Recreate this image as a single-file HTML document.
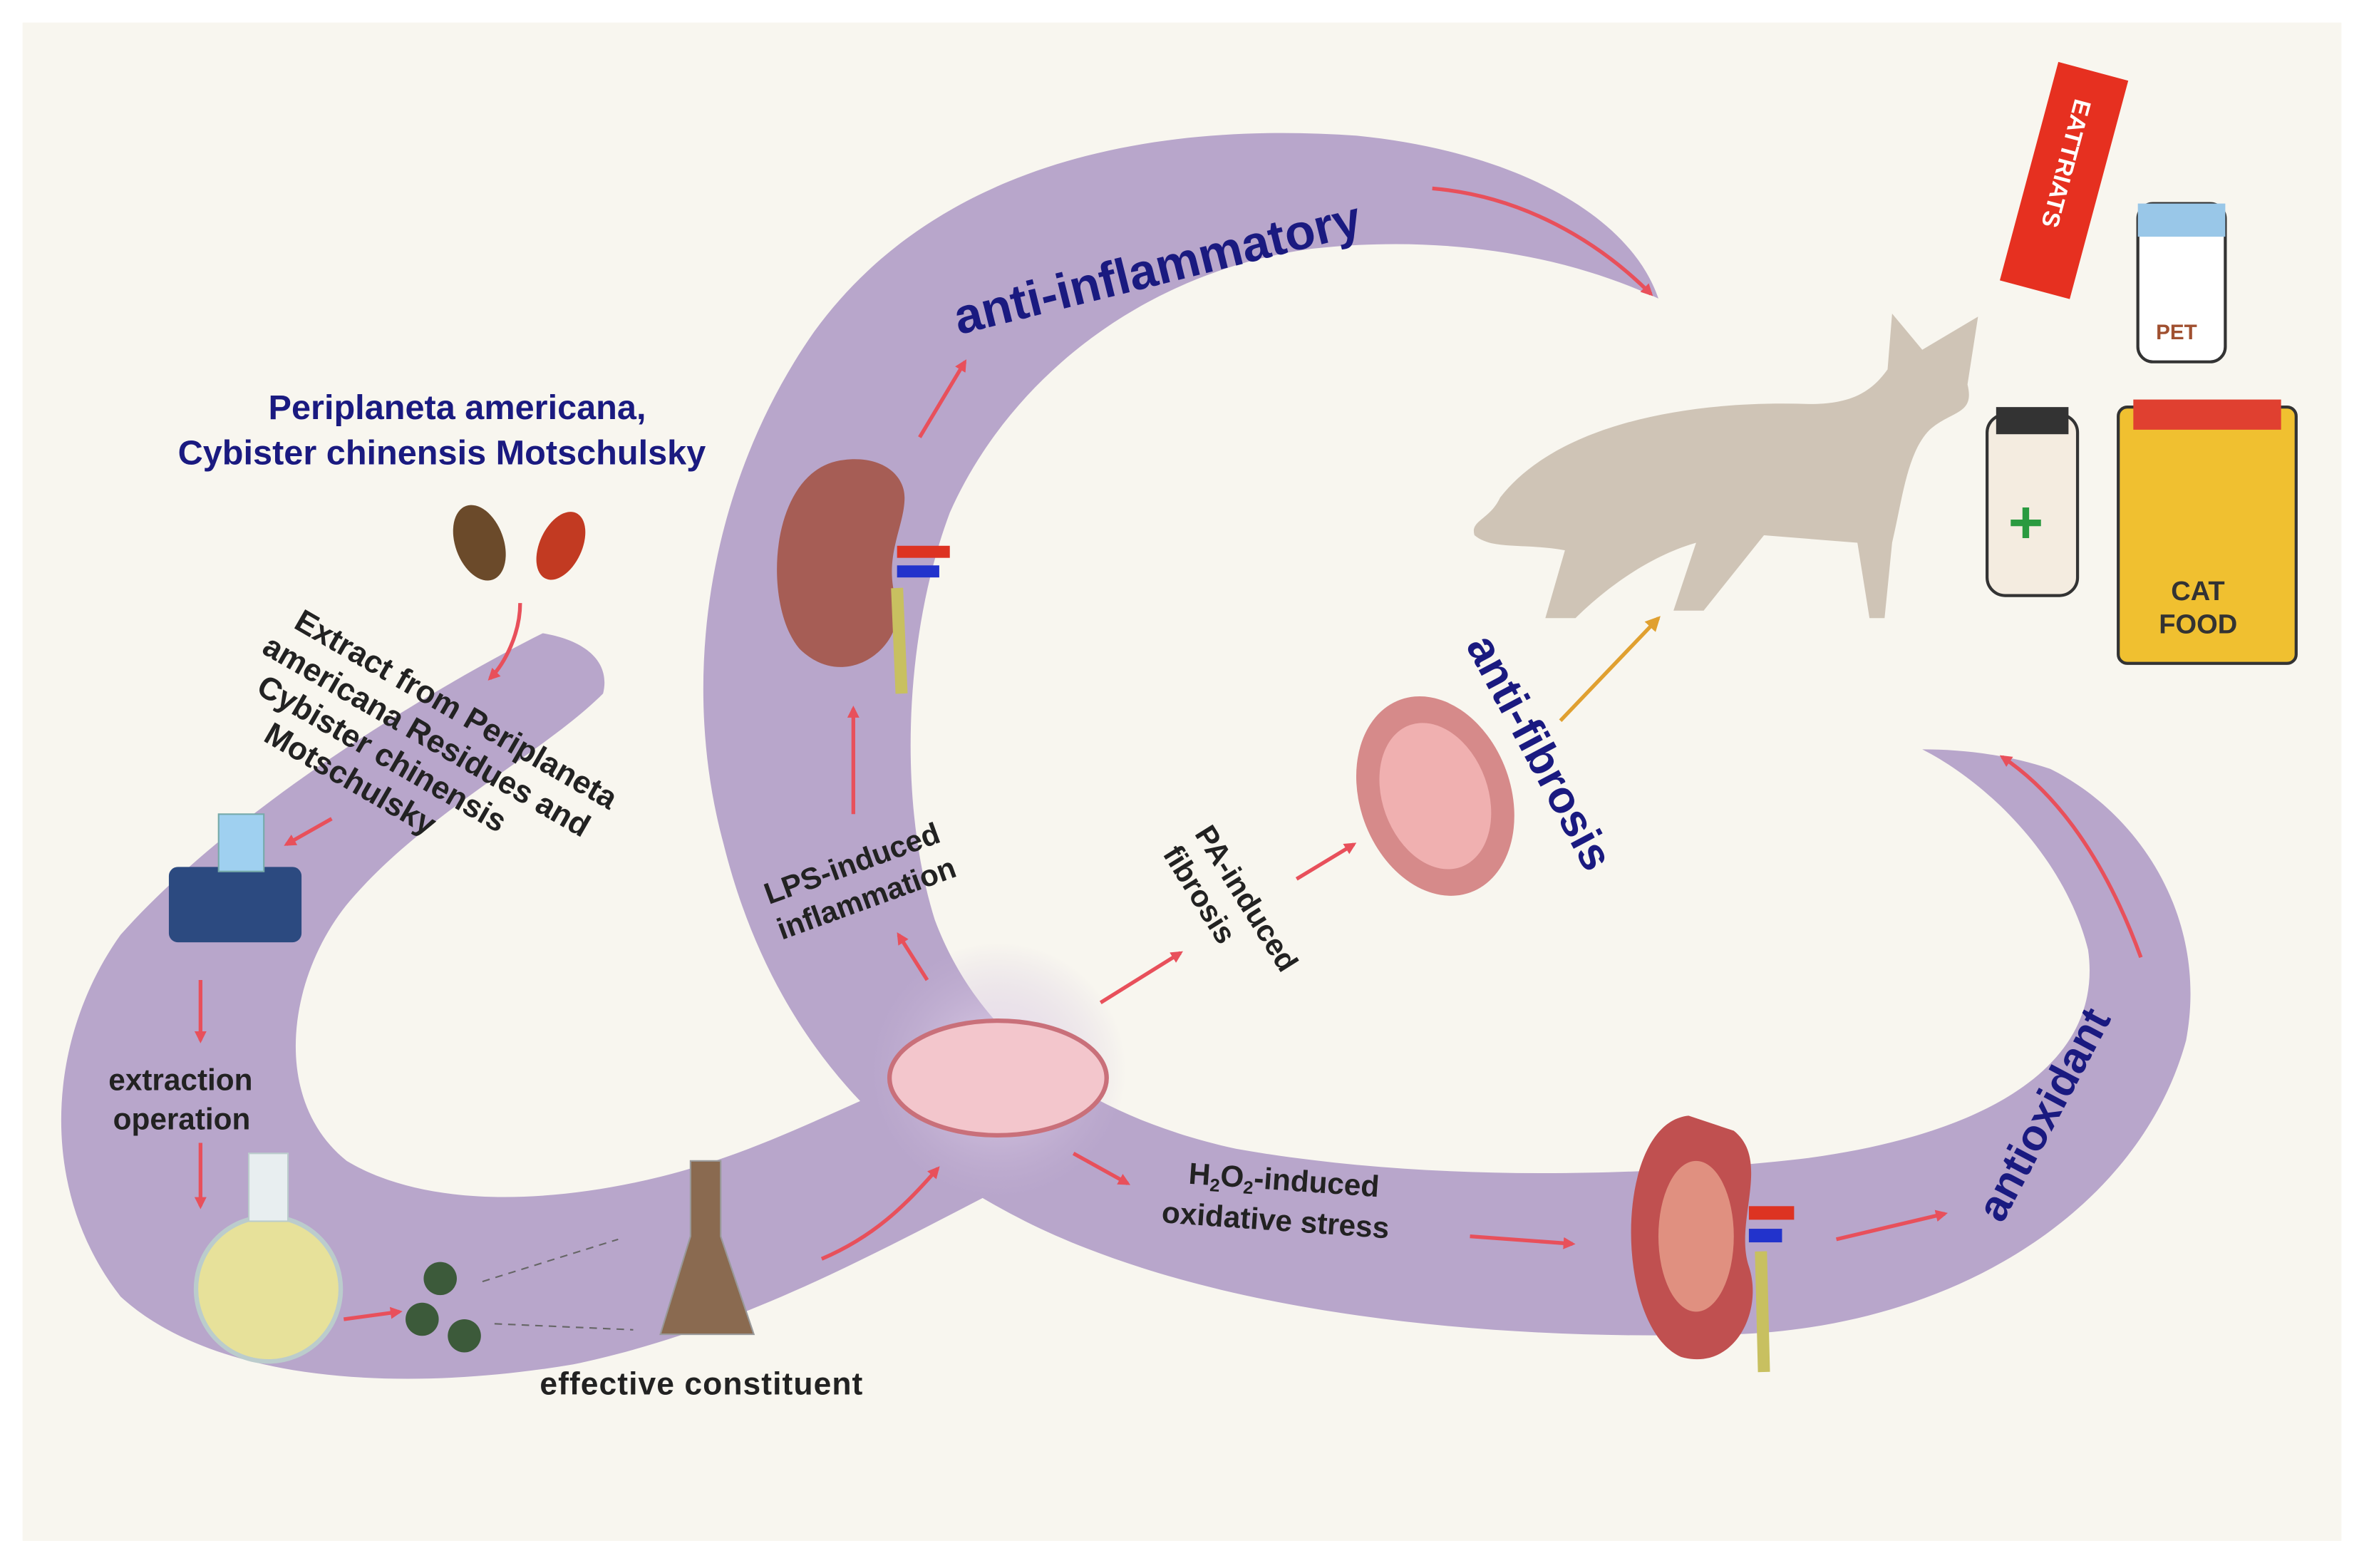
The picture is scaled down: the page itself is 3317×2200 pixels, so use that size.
<!DOCTYPE html>
<html><head><meta charset="utf-8"><style>
html,body{margin:0;padding:0;background:#fff}
svg{display:block}
text{font-family:"Liberation Sans",sans-serif;font-weight:bold}
</style></head><body>
<svg width="3317" height="2200" viewBox="0 0 1568 1040" preserveAspectRatio="none" xmlns="http://www.w3.org/2000/svg">
<defs>
<marker id="ar" markerWidth="8" markerHeight="8" refX="6" refY="4" orient="auto" markerUnits="userSpaceOnUse"><path d="M0,0 L8,4 L0,8 z" fill="#e8505b"/></marker>
<marker id="ao" markerWidth="10" markerHeight="10" refX="8" refY="5" orient="auto" markerUnits="userSpaceOnUse"><path d="M0,0 L10,5 L0,10 z" fill="#e0a030"/></marker>
<radialGradient id="glow"><stop offset="0" stop-color="#e9dcf0" stop-opacity="0.9"/><stop offset="1" stop-color="#c9b6d8" stop-opacity="0"/></radialGradient>
</defs>
<rect width="1568" height="1040" fill="#fff"/>
<rect x="15" y="15" width="1538" height="1007" fill="#f8f6ef"/>
<!-- ribbons -->
<g fill="#b8a6cb">
<path d="M1100,198 C1080,140 1000,100 900,90 C760,80 620,110 540,220 C470,320 450,450 480,560 C510,680 580,760 680,810 C800,870 980,890 1150,885 C1300,880 1420,800 1450,690 C1465,610 1420,540 1360,510 C1330,500 1300,497 1275,497 C1320,520 1370,570 1385,630 C1395,700 1330,750 1200,768 C1100,780 950,785 820,762 C720,740 650,690 620,610 C595,530 600,420 630,340 C670,250 760,180 870,165 C960,155 1040,170 1100,198 z"/>
<path d="M360,420 C300,450 160,530 80,620 C30,690 25,790 80,860 C140,915 260,925 380,905 C500,880 600,820 690,775 L650,700 C580,720 520,760 440,780 C360,800 280,800 230,770 C180,730 190,650 230,600 C280,540 360,500 400,460 C405,440 390,425 360,420 z"/>
</g>
<circle cx="662" cy="710" r="85" fill="url(#glow)"/>
<!-- labels -->
<text x="178" y="278" font-size="23" fill="#1a1a80">Periplaneta americana,</text>
<text x="118" y="308" font-size="23" fill="#1a1a80">Cybister chinensis Motschulsky</text>
<text transform="translate(636,222) rotate(-14)" font-size="33" fill="#1a1a80">anti-inflammatory</text>
<text transform="translate(972,428) rotate(62)" font-size="30" fill="#1a1a80">anti-fibrosis</text>
<text transform="translate(1328,812) rotate(-62)" font-size="29" fill="#1a1a80">antioxidant</text>
<g transform="translate(194,416) rotate(30)" font-size="21" fill="#222">
<text x="0" y="0">Extract from Periplaneta</text>
<text x="-10" y="25">americana Residues and</text>
<text x="0" y="50">Cybister chinensis</text>
<text x="20" y="75">Motschulsky</text>
</g>
<text x="72" y="723" font-size="20" fill="#222">extraction</text>
<text x="75" y="749" font-size="20" fill="#222">operation</text>
<text x="358" y="925" font-size="21" fill="#222" letter-spacing="0.5">effective constituent</text>
<g transform="translate(510,600) rotate(-20)" font-size="20" fill="#222"><text x="0" y="0">LPS-induced</text><text x="0" y="25">inflammation</text></g>
<g transform="translate(792,553) rotate(58)" font-size="20" fill="#222"><text x="0" y="0">PA-induced</text><text x="0" y="25">fibrosis</text></g>
<g transform="translate(788,785) rotate(4)" font-size="20" fill="#222"><text x="0" y="0">H<tspan font-size="12" dy="4">2</tspan><tspan dy="-4">O</tspan><tspan font-size="12" dy="4">2</tspan><tspan dy="-4">-induced</tspan></text><text x="-16" y="27">oxidative stress</text></g>
<!-- arrows -->
<g stroke="#e8505b" stroke-width="2.5" fill="none" marker-end="url(#ar)">
<path d="M345,400 C345,420 335,440 325,450"/>
<path d="M220,543 L190,560"/>
<path d="M133,650 L133,690"/>
<path d="M133,758 L133,800"/>
<path d="M228,875 L265,870"/>
<path d="M545,835 C580,820 600,800 622,775"/>
<path d="M615,650 L596,620"/>
<path d="M566,540 L566,470"/>
<path d="M610,290 L640,240"/>
<path d="M950,125 C1010,130 1060,160 1095,195"/>
<path d="M730,665 L783,632"/>
<path d="M860,583 L898,560"/>
<path d="M712,765 L748,785"/>
<path d="M975,820 L1043,825"/>
<path d="M1218,822 L1290,805"/>
<path d="M1420,635 C1400,580 1370,530 1328,502"/>
</g>
<path d="M1035,478 L1100,410" stroke="#e0a030" stroke-width="2.5" marker-end="url(#ao)"/>
<!-- insects -->
<ellipse cx="318" cy="360" rx="16" ry="26" fill="#6b4a2a" transform="rotate(-20 318 360)"/>
<ellipse cx="372" cy="362" rx="14" ry="24" fill="#c23a22" transform="rotate(25 372 362)"/>
<!-- stirrer -->
<rect x="112" y="575" width="88" height="50" rx="6" fill="#2c4a80"/>
<rect x="145" y="540" width="30" height="38" fill="#9fd0f0" stroke="#7aa" />
<!-- flask -->
<circle cx="178" cy="855" r="48" fill="#e7e19a" stroke="#bcc" stroke-width="3"/>
<rect x="165" y="765" width="26" height="45" fill="#e8eef0" stroke="#bcc"/>
<circle cx="292" cy="848" r="11" fill="#3c5a3a"/><circle cx="280" cy="875" r="11" fill="#3c5a3a"/><circle cx="308" cy="886" r="11" fill="#3c5a3a"/>
<path d="M320,850 L410,822 M328,878 L420,882" stroke="#666" stroke-dasharray="5,4"/>
<path d="M458,770 L478,770 L478,820 L500,885 L438,885 L458,820 z" fill="#8a6a50" stroke="#999"/>
<!-- petri -->
<ellipse cx="662" cy="715" rx="72" ry="38" fill="#f3c6cc" stroke="#c9707a" stroke-width="3"/>
<!-- kidneys -->
<path d="M560,305 C510,310 505,400 530,430 C560,460 600,430 595,400 C585,370 600,350 600,330 C600,315 585,302 560,305z" fill="#a65d55"/>
<rect x="595" y="362" width="35" height="8" fill="#d32"/><rect x="595" y="375" width="28" height="8" fill="#23c"/>
<path d="M595,390 L598,460" stroke="#c8c060" stroke-width="8"/>
<ellipse cx="952" cy="528" rx="50" ry="68" fill="#d68a8a" transform="rotate(-20 952 528)"/>
<ellipse cx="952" cy="528" rx="35" ry="50" fill="#f0b0b0" transform="rotate(-20 952 528)"/>
<path d="M1120,740 C1070,745 1070,880 1115,900 C1150,910 1170,870 1160,840 C1150,810 1175,770 1150,750 z" fill="#c05050"/>
<ellipse cx="1125" cy="820" rx="25" ry="50" fill="#e09080"/>
<rect x="1160" y="800" width="30" height="9" fill="#d32"/><rect x="1160" y="815" width="22" height="9" fill="#23c"/>
<path d="M1168,830 L1170,910" stroke="#c8c060" stroke-width="8"/>
<!-- cat -->
<path d="M995,330 C1030,285 1110,265 1200,268 C1225,268 1240,262 1252,245 L1255,208 L1275,232 L1312,210 L1305,255 C1310,275 1295,272 1280,285 C1265,300 1262,330 1255,360 L1250,410 L1240,410 L1232,360 L1170,355 L1130,405 L1110,405 L1125,360 C1090,370 1060,395 1045,410 L1025,410 L1038,365 C1010,360 990,365 978,355 C975,345 988,345 995,330z" fill="#cfc4b6"/>
<!-- products -->
<g transform="rotate(15 1370 120)"><rect x="1345" y="45" width="48" height="150" fill="#e63020"/><text transform="translate(1362,65) rotate(90)" font-size="16" fill="#fff">EATTRIATS</text></g>
<rect x="1418" y="135" width="58" height="105" rx="10" fill="#fff" stroke="#333" stroke-width="2"/><rect x="1418" y="135" width="58" height="22" fill="#99c7e8"/><text x="1430" y="225" font-size="14" fill="#a05030">PET</text>
<rect x="1318" y="275" width="60" height="120" rx="12" fill="#f4ece0" stroke="#333" stroke-width="2"/><rect x="1324" y="270" width="48" height="18" fill="#333"/><text x="1332" y="360" font-size="40" fill="#2a9a40">+</text>
<rect x="1405" y="270" width="118" height="170" rx="6" fill="#f0c030" stroke="#333" stroke-width="2"/><rect x="1415" y="265" width="98" height="20" fill="#e04030"/>
<text x="1440" y="398" font-size="18" fill="#333">CAT</text><text x="1432" y="420" font-size="18" fill="#333">FOOD</text>
</svg>
</body></html>
